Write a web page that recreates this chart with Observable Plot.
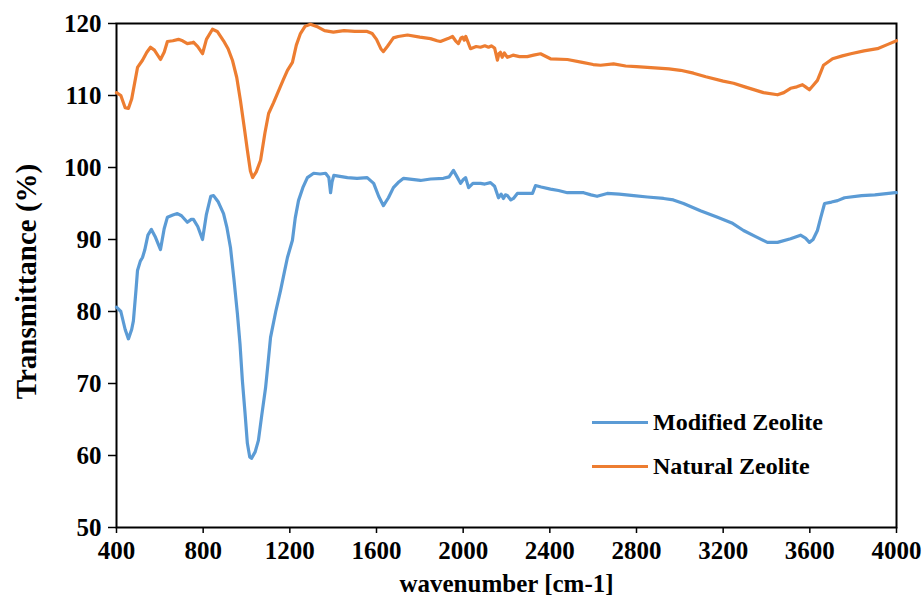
<!DOCTYPE html>
<html>
<head>
<meta charset="utf-8">
<script src="https://cdn.jsdelivr.net/npm/d3@7"></script>
<script src="https://cdn.jsdelivr.net/npm/@observablehq/plot@0.6"></script>
<style>
  html, body { margin: 0; padding: 0; background: #fff; }
  #wrap { position: relative; width: 922px; height: 596px; }
  #wrap svg text { font-family: "Liberation Serif", serif; font-weight: bold; font-variant: normal; }
  #wrap svg g[aria-label="x-axis label"] text { font-size: 25px; }
  .legend { position: absolute; left: 592px; top: 400px; font-family: "Liberation Serif", serif; font-weight: bold; font-size: 24px; color: #000; }
  .legend .row { display: flex; align-items: center; height: 44px; }
  .legend .sw { width: 56px; height: 3px; margin-right: 5px; }
</style>
</head>
<body>
<div id="wrap"></div>
<script>
const seriesNames = ["Modified Zeolite", "Natural Zeolite"];
const seriesColors = ["#5B9BD5", "#ED7D31"];
const xTicks = [400, 800, 1200, 1600, 2000, 2400, 2800, 3200, 3600, 4000];
const yTicks = [50, 60, 70, 80, 90, 100, 110, 120];
const xLabel = "wavenumber [cm-1]";
const yLabel = "Transmittance (%)";

const naturalWn = [400,420,440,455,470,497,520,540,557,575,603,620,635,660,686,705,727,745,755,775,797,815,843,865,894,915,935,955,972,990,1004,1018,1028,1045,1065,1085,1102,1125,1143,1170,1189,1212,1230,1249,1270,1295,1330,1360,1401,1450,1500,1557,1580,1600,1620,1632,1650,1678,1700,1743,1800,1849,1880,1895,1930,1951,1965,1978,1990,1997,2005,2012,2020,2034,2060,2080,2100,2117,2130,2145,2158,2165,2172,2180,2190,2204,2230,2260,2296,2325,2357,2403,2481,2550,2600,2634,2694,2750,2800,2850,2900,2950,3003,3063,3120,3200,3248,3300,3386,3451,3480,3511,3540,3566,3580,3598,3615,3635,3650,3663,3705,3750,3789,3850,3912,3960,4000];
const naturalT = [110.4,110.0,108.3,108.2,109.5,113.9,114.9,116.0,116.7,116.3,115.0,116.0,117.5,117.6,117.8,117.6,117.2,117.3,117.4,116.8,115.8,117.8,119.2,118.9,117.6,116.5,114.9,112.5,109.3,105.5,102.4,99.5,98.6,99.4,101.0,104.8,107.5,109.0,110.3,112.2,113.5,114.6,117.0,118.6,119.6,119.9,119.5,119.0,118.8,119.0,118.9,118.9,118.6,117.8,116.5,116.1,116.8,118.0,118.2,118.4,118.1,117.9,117.6,117.5,117.9,118.2,117.6,117.2,118.0,118.1,117.7,118.2,117.6,116.5,116.8,116.7,116.9,116.7,116.9,116.6,114.9,115.8,116.0,115.3,115.9,115.3,115.6,115.4,115.4,115.6,115.8,115.1,115.0,114.6,114.3,114.2,114.4,114.1,114.0,113.9,113.8,113.7,113.5,113.1,112.6,112.0,111.7,111.2,110.4,110.1,110.4,111.0,111.2,111.5,111.2,110.8,111.4,112.1,113.2,114.2,115.1,115.5,115.8,116.2,116.5,117.1,117.6];

const modifiedWn = [400,420,440,455,470,478,490,497,510,520,530,545,561,580,603,620,635,660,681,700,727,745,755,775,797,815,835,848,870,894,910,926,942,958,970,981,993,1004,1015,1023,1040,1055,1070,1088,1100,1111,1135,1157,1175,1189,1212,1225,1240,1260,1281,1310,1340,1365,1380,1388,1395,1403,1466,1510,1557,1587,1610,1632,1655,1678,1700,1725,1803,1850,1909,1935,1955,1970,1988,2000,2011,2025,2045,2080,2100,2126,2145,2163,2175,2186,2195,2204,2220,2232,2250,2280,2320,2334,2360,2403,2440,2481,2556,2590,2618,2665,2720,2787,2850,2925,2970,3017,3095,3174,3240,3294,3350,3404,3451,3511,3557,3580,3598,3615,3635,3650,3668,3700,3728,3760,3839,3900,3995,4000];
const modifiedT = [80.6,80.0,77.5,76.2,77.5,78.7,83.0,85.7,87.0,87.5,88.5,90.6,91.4,90.3,88.6,91.5,93.1,93.4,93.6,93.3,92.4,92.8,92.8,91.8,90.0,93.5,96.0,96.1,95.2,93.6,91.6,88.9,84.5,79.7,75.5,70.4,66.0,61.7,59.8,59.6,60.5,62.1,65.5,69.4,73.0,76.4,80.0,82.9,85.5,87.5,89.9,93.0,95.4,97.2,98.6,99.2,99.1,99.2,98.6,96.5,98.0,98.9,98.6,98.5,98.6,97.8,96.0,94.7,95.8,97.2,97.9,98.5,98.2,98.4,98.5,98.7,99.6,98.8,97.8,98.3,98.6,97.2,97.8,97.8,97.7,97.9,97.4,95.8,96.3,95.7,96.2,96.1,95.5,95.7,96.4,96.4,96.4,97.5,97.3,97.0,96.8,96.5,96.5,96.2,96.0,96.4,96.3,96.1,95.9,95.7,95.5,95.0,94.0,93.1,92.3,91.25,90.4,89.6,89.6,90.1,90.6,90.2,89.6,90.0,91.25,93.0,95.0,95.2,95.4,95.8,96.1,96.2,96.5,96.5];

const modified = modifiedWn.map((w, i) => ({wn: w, t: modifiedT[i], s: seriesNames[0]}));
const natural = naturalWn.map((w, i) => ({wn: w, t: naturalT[i], s: seriesNames[1]}));

const chart = Plot.plot({
  width: 922,
  height: 596,
  marginLeft: 116,
  marginRight: 26,
  marginTop: 23,
  marginBottom: 69,
  style: { fontFamily: "'Liberation Serif', serif", fontWeight: "bold", fontSize: "25px", color: "#000", background: "#fff", overflow: "visible" },
  x: { domain: [400, 4000] },
  y: { domain: [50, 120] },
  color: { domain: seriesNames, range: seriesColors },
  marks: [
    Plot.frame({ stroke: "#000", strokeWidth: 2 }),
    Plot.axisX({ ticks: xTicks, tickSize: 6, tickPadding: 8, tickFormat: d3.format("d"), label: xLabel, labelAnchor: "center", labelArrow: "none", labelOffset: 64, strokeWidth: 1.5 }),
    Plot.axisY({ ticks: yTicks, tickSize: 8, tickPadding: 7, tickFormat: d3.format("d"), label: null, strokeWidth: 1.5 }),
    Plot.text([yLabel], { text: d => d, frameAnchor: "left", rotate: -90, lineAnchor: "top", textAnchor: "middle", dx: -101, dy: 6, fontSize: 29, fontWeight: "bold", fill: "#000" }),
    Plot.line(natural, { x: "wn", y: "t", stroke: "s", strokeWidth: 3.2, curve: "linear" }),
    Plot.line(modified, { x: "wn", y: "t", stroke: "s", strokeWidth: 3.2, curve: "linear" })
  ]
});
const wrap = document.getElementById("wrap");
wrap.appendChild(chart);

const legend = document.createElement("div");
legend.className = "legend";
seriesNames.forEach((n, i) => {
  const row = document.createElement("div");
  row.className = "row";
  const sw = document.createElement("span");
  sw.className = "sw";
  sw.style.background = seriesColors[i];
  const tx = document.createElement("span");
  tx.textContent = n;
  row.appendChild(sw);
  row.appendChild(tx);
  legend.appendChild(row);
});
wrap.appendChild(legend);
</script>
</body>
</html>
